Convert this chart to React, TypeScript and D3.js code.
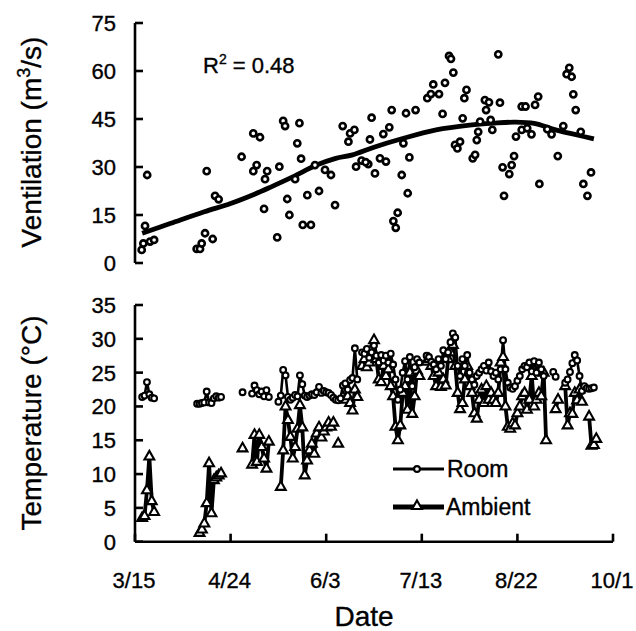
import React from 'react';
import * as d3 from 'd3';

// x: days after 3/15
const xTickValues = [0, 40, 80, 120, 160, 200];
const xTickLabels = ['3/15', '4/24', '6/3', '7/13', '8/22', '10/1'];
const ventTicks = [0, 15, 30, 45, 60, 75];
const tempTicks = [0, 5, 10, 15, 20, 25, 30, 35];

const ventilation: [number, number][] = [
  [5.1, 27.5], [4.2, 11.6], [2.8, 4.1], [3.5, 6.1], [6.3, 6.7], [8, 7.2],
  [30, 28.7], [33.5, 21], [35, 19.9], [25.8, 4.4], [27.2, 4.4], [27.9, 6.1], [29.3, 9.3], [32.5, 7.5],
  [44.6, 33.2], [49.5, 40.5], [52.3, 39.3], [49.5, 28.7], [50.9, 30.6],
  [55.3, 28.7], [54.4, 26.2], [54, 16.9], [60.4, 30.1], [59.5, 8.0], [62, 44.4], [62.8, 42.8],
  [68.8, 43.7], [67.9, 37.4], [69.5, 32.6], [63.7, 20], [64.6, 15], [72.1, 21.2], [70.2, 11.9],
  [73.6, 11.9], [75.3, 30.6], [77, 22.5], [79.5, 29.1], [82, 27.5], [67, 26.2], [83.7, 18.1],
  [86.9, 42.8], [90, 40.5], [91.8, 41.6], [89.3, 37.9], [99, 45.4], [98.3, 38.6], [92.5, 30.1],
  [94.8, 32], [97.6, 30.9], [96.5, 31.5], [100.4, 28],
  [107.4, 47.8], [113.4, 46.8], [117.4, 47.8], [103.9, 40.3], [106.4, 42.4], [102.5, 32.7],
  [105, 31.7], [112.3, 37.4], [114.8, 33], [111.6, 27.5], [114.1, 21.8], [109.9, 15.7],
  [108.1, 13.1], [109.1, 11.0],
  [122.3, 51.5], [123.8, 52.8], [127.2, 52.8], [124.8, 55.8], [129.7, 56.3], [131.4, 64.7],
  [132.2, 63.8], [133.2, 59.5], [128.7, 46.6], [138.7, 54.1], [137.8, 51.5], [137.1, 45.2],
  [133.9, 36.9], [136, 37.9], [134.9, 35.8], [141.3, 32.7], [142.3, 33.8], [146.4, 50.9],
  [148.1, 50.2], [146.9, 47.8], [144.4, 44.2], [148.8, 44.7], [143.6, 41], [143, 38.4], [149.5, 41.6],
  [152, 65.2], [152.7, 50.1], [161.8, 48.9], [163.4, 48.9], [167.4, 49.4], [168.7, 52],
  [159.4, 39.5], [161.8, 41.6], [164.1, 42.1], [165.9, 40.2], [172.5, 41.8], [174.3, 40.2],
  [179.2, 42.8], [186.5, 41], [181.7, 61], [180.6, 59], [182.7, 58.2], [183.4, 52.7], [184.4, 47.8],
  [158.6, 33.4], [153.8, 29.9], [157.6, 30.6], [156.6, 27.8], [154.4, 21], [169.2, 24.7],
  [176.9, 33.4], [190.8, 28.3], [187.6, 24.7], [189.3, 21],
];

const ventFit: [number, number][] = [
  [3, 9.3], [15, 12.4], [29, 16], [40, 18.6], [50, 21.5], [57, 23.8], [66, 26.9], [76, 30.6],
  [84, 32.7], [91, 33.8], [100, 36.2], [112, 38.9], [126, 41.6], [140, 43.1], [150, 43.7],
  [159, 44.0], [167, 43.6], [176, 41.6], [185, 40], [192, 38.8],
];

// Daily temperature runs: start day, then consecutive daily values
const roomRuns: { start: number; values: number[] }[] = [
  { start: 3, values: [21.4, 21.6, 23.6, 21.8, 21.3, 21.2] },
  { start: 26, values: [20.4, 20.4, 20.5, 20.6, 22.2, 20.6, 20.5, 21.2, 21.5, 21.3, 21.4] },
  { start: 45, values: [22.1] },
  { start: 49, values: [21.9, 23.1, 22.4, 21.8, 22.2, 21.5, 22.4, 21.4] },
  { start: 60, values: [20.7, 21.6, 25.4, 24.6, 21.4, 21.0, 21.3, 21.7, 21.5, 24.6, 23.3, 21.6, 21.4, 21.6, 21.8, 21.7, 22.1, 22.9, 22.0, 22.3, 22.1, 22.0, 21.7, 21.3, 21.0, 20.9, 21.2, 23.1, 23.4, 22.5, 23.9, 24.2, 28.6, 24.0] },
  { start: 95, values: [28.0, 27.8, 28.5, 27.2, 28.0, 29.0, 27.5, 26.5, 27.6, 26.8, 27.5, 26.5, 27.8, 26.2, 24.0, 21.0, 22.5, 25.0, 26.7, 24.0, 27.3, 23.0, 25.8, 27.0, 26.5] },
  { start: 122, values: [27.5, 27.3, 26.6, 26.2, 25.5, 27.0, 26.0, 28.3, 27.0, 28.0, 29.5, 30.8, 30.2, 26.0, 24.5, 27.0, 26.0, 27.6, 25.0, 24.0, 23.2, 24.5, 25.0, 25.5, 26.0, 25.3, 26.5, 25.2, 24.5, 25.0, 24.0, 25.5, 29.8, 25.5, 23.5, 22.8, 22.6, 23.0, 23.8, 24.5, 25.5, 26.0, 25.8, 26.5, 25.2, 26.7, 25.0, 26.5, 25.5, 24.5] },
  { start: 175, values: [25.1, 24.4] },
  { start: 180, values: [23.5, 24.0, 25.1, 26.4, 27.6, 26.8, 24.5, 22.3, 23.0, 22.7, 22.6, 22.7, 22.8] },
];

const ambientRuns: { start: number; values: number[] }[] = [
  { start: 3, values: [3.5, 3.8, 7.6, 12.6, 6.0, 4.4] },
  { start: 27, values: [1.3, 1.8, 2.7, 5.7, 11.6, 4.2, 9.1, 9.5, 9.8, 10.1] },
  { start: 45, values: [13.8] },
  { start: 49, values: [11.4, 15.8, 11.8, 15.8, 14.0, 12.3, 10.8, 14.8] },
  { start: 61, values: [8.1, 13.5, 20.0, 18.0, 15.5, 12.3, 14.0, 16.7, 20.2, 16.9, 9.8, 12.0, 13.5, 14.5, 13.0, 16.0, 16.9, 15.4, 16.3, 16.9, 17.6, 17.0, 17.6] },
  { start: 85, values: [14.5] },
  { start: 87, values: [21.4, 21.0, 21.5, 20.5, 19.4, 22.5, 21.4] },
  { start: 95, values: [26.0, 27.0, 25.8, 26.5, 28.5, 29.8, 27.0, 24.0, 23.6, 26.0, 24.5, 25.5, 23.0, 21.5, 17.0, 15.0, 17.2, 22.0, 23.0, 19.5, 25.0, 18.9, 21.5, 25.3, 24.5] },
  { start: 122, values: [26.6, 27.0, 26.0, 24.5, 23.0, 25.0, 22.9, 24.0, 23.1, 27.0, 28.0, 29.1, 26.0, 22.0, 19.6, 20.5, 24.0, 26.0, 23.0, 22.0, 19.0, 18.2, 21.0, 22.5, 20.5, 23.0, 21.0, 22.0, 21.0, 20.5, 22.0, 26.5, 27.3, 20.0, 17.0, 16.7, 17.5, 17.2, 19.0, 20.0, 21.5, 22.0, 19.5, 21.0, 24.5, 20.0, 21.0, 22.0, 21.5, 25.0, 15.0] },
  { start: 176, values: [19.6, 21.0] },
  { start: 180, values: [23.0, 17.2, 19.0, 18.9, 22.0, 20.9, 22.5, 20.7] },
  { start: 190, values: [18.5, 14.2, 14.3, 15.2] },
];

const FONT = "'Liberation Sans', Arial, Helvetica, sans-serif";

const toPoints = (run: { start: number; values: number[] }) =>
  run.values.map((v, i) => [run.start + i, v] as [number, number]);

export default function App() {
  const x = d3.scaleLinear().domain([0, 200]).range([135, 613]);
  const yV = d3.scaleLinear().domain([0, 75]).range([263, 23]);
  const yT = d3.scaleLinear().domain([0, 35]).range([541.7, 305]);

  const fitPath = d3.line<[number, number]>()
    .x((d) => x(d[0])).y((d) => yV(d[1])).curve(d3.curveCatmullRom)(ventFit) || '';
  const tLine = d3.line<[number, number]>().x((d) => x(d[0])).y((d) => yT(d[1]));
  const tri = 'M0,-5.6L4.9,3L-4.9,3Z';

  const axisW = 2.6;
  const txt = { stroke: '#000', strokeWidth: 0.35 };

  return (
    <svg width={636} height={631} style={{ position: 'absolute', left: 0, top: 0, background: '#fff' }}
      fontFamily={FONT}>
      <rect width={636} height={631} fill="#fff" />
      {/* ---------- Top panel ---------- */}
      <line x1={x(0)} x2={x(0)} y1={yV(75)} y2={yV(0)} stroke="#000" strokeWidth={axisW} />
      {ventTicks.map((t) => (
        <g key={'vt' + t}>
          <line x1={x(0)} x2={x(0) + 8} y1={yV(t)} y2={yV(t)} stroke="#000" strokeWidth={axisW} />
          <text x={116} y={yV(t)} dy="0.36em" textAnchor="end" fontSize={22} {...txt}>{t}</text>
        </g>
      ))}
      <text transform={`translate(41,142) rotate(-90)`} textAnchor="middle" fontSize={28} {...txt}>
        Ventilation (m<tspan fontSize={18} dy={-11}>3</tspan><tspan dy={11}>/s)</tspan>
      </text>
      <text x={203} y={73} fontSize={22} {...txt}>
        R<tspan fontSize={14} dy={-9}>2</tspan><tspan dy={9}> = 0.48</tspan>
      </text>
      <path d={fitPath} fill="none" stroke="#000" strokeWidth={4.8} strokeLinejoin="round" />
      {ventilation.map((d, i) => (
        <circle key={'v' + i} cx={x(d[0])} cy={yV(d[1])} r={3.1} fill="#fff" stroke="#000" strokeWidth={2.6} />
      ))}

      {/* ---------- Bottom panel ---------- */}
      <line x1={x(0)} x2={x(0)} y1={yT(35)} y2={yT(0)} stroke="#000" strokeWidth={axisW} />
      <line x1={x(0)} x2={x(200)} y1={yT(0)} y2={yT(0)} stroke="#000" strokeWidth={axisW} />
      {tempTicks.map((t) => (
        <g key={'tt' + t}>
          <line x1={x(0)} x2={x(0) + 8} y1={yT(t)} y2={yT(t)} stroke="#000" strokeWidth={axisW} />
          <text x={116} y={yT(t)} dy="0.36em" textAnchor="end" fontSize={22} {...txt}>{t}</text>
        </g>
      ))}
      {xTickValues.map((t, i) => (
        <g key={'xt' + t}>
          <line x1={x(t)} x2={x(t)} y1={yT(0)} y2={yT(0) - 8} stroke="#000" strokeWidth={axisW} />
          <text x={x(t) - 1} y={588} textAnchor="middle" fontSize={22} {...txt}>{xTickLabels[i]}</text>
        </g>
      ))}
      <text x={364} y={626} textAnchor="middle" fontSize={28} {...txt}>Date</text>
      <text transform={`translate(41,423) rotate(-90)`} textAnchor="middle" fontSize={28} {...txt}>
        Temperature (°C)
      </text>

      {ambientRuns.map((r, i) => (
        <path key={'al' + i} d={tLine(toPoints(r)) || ''} fill="none" stroke="#000" strokeWidth={3.8} strokeLinejoin="round" />
      ))}
      {roomRuns.map((r, i) => (
        <path key={'rl' + i} d={tLine(toPoints(r)) || ''} fill="none" stroke="#000" strokeWidth={2.6} strokeLinejoin="round" />
      ))}
      {ambientRuns.flatMap((r, i) => toPoints(r).map((d, j) => (
        <path key={'am' + i + '-' + j} d={tri} transform={`translate(${x(d[0])},${yT(d[1])})`}
          fill="#fff" stroke="#000" strokeWidth={2.1} />
      )))}
      {roomRuns.flatMap((r, i) => toPoints(r).map((d, j) => (
        <circle key={'rm' + i + '-' + j} cx={x(d[0])} cy={yT(d[1])} r={2.9}
          fill="#fff" stroke="#000" strokeWidth={2.1} />
      )))}

      {/* Legend */}
      <line x1={393} x2={444} y1={469} y2={469} stroke="#000" strokeWidth={3} />
      <circle cx={417} cy={469} r={2.9} fill="#fff" stroke="#000" strokeWidth={2.1} />
      <text x={447} y={477} fontSize={23} {...txt}>Room</text>
      <line x1={393} x2={444} y1={507} y2={507} stroke="#000" strokeWidth={4.8} />
      <path d={tri} transform="translate(417,506)" fill="#fff" stroke="#000" strokeWidth={2.1} />
      <text x={446} y={515} fontSize={23} {...txt}>Ambient</text>
    </svg>
  );
}
